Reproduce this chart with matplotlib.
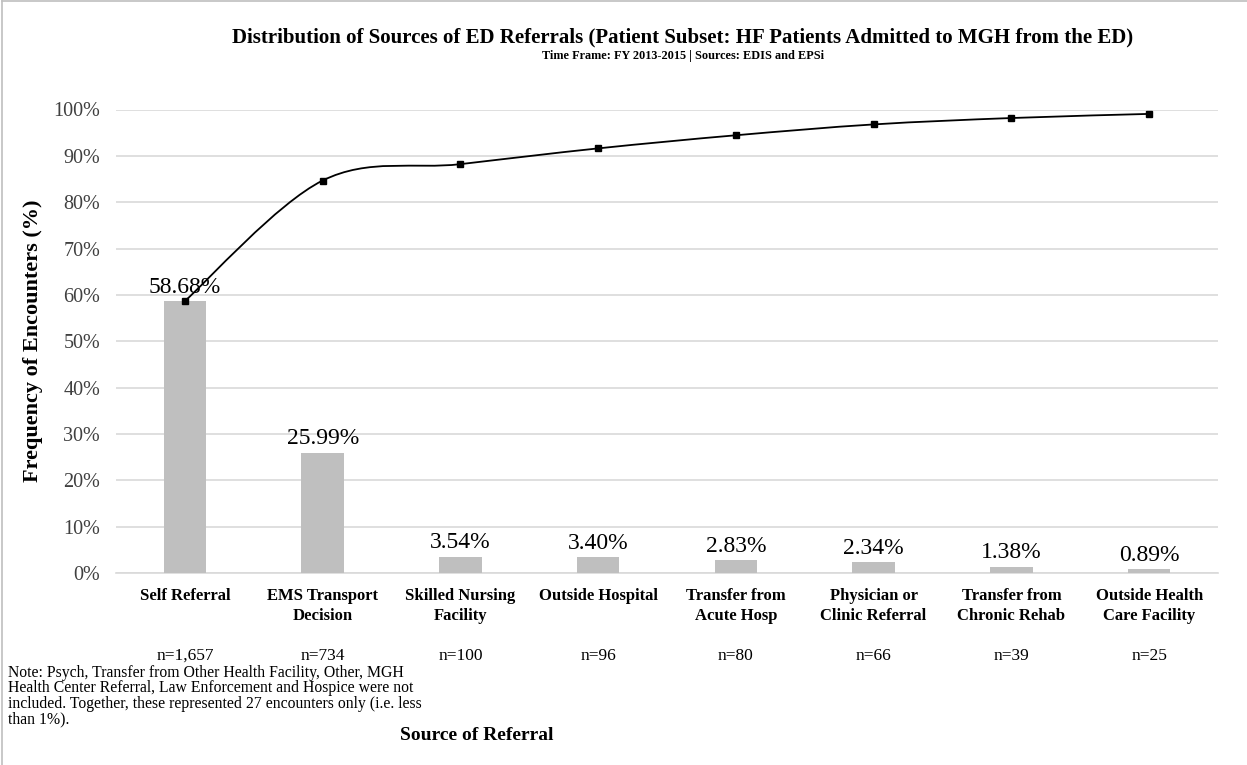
import matplotlib
matplotlib.use("Agg")
import matplotlib.pyplot as plt
import numpy as np
from matplotlib.path import Path
from matplotlib.patches import PathPatch

plt.rcParams['font.family'] = ['Liberation Serif', 'DejaVu Serif']

# referral sources, share of encounters and counts
sources = ['Self Referral', 'EMS Transport\nDecision', 'Skilled Nursing\nFacility',
           'Outside Hospital', 'Transfer from\nAcute Hosp', 'Physician or\nClinic Referral',
           'Transfer from\nChronic Rehab', 'Outside Health\nCare Facility']
share = [58.68, 25.99, 3.54, 3.40, 2.83, 2.34, 1.38, 0.89]
counts = ['n=1,657', 'n=734', 'n=100', 'n=96', 'n=80', 'n=66', 'n=39', 'n=25']
yticks = [0, 10, 20, 30, 40, 50, 60, 70, 80, 90, 100]

W, H = 1247, 765
fig = plt.figure(figsize=(W / 100, H / 100), dpi=100)
ax = fig.add_axes([116 / W, 1 - 573 / H, (1218 - 116) / W, (573 - 109.5) / H])

x = np.arange(len(sources))
frac = np.array(share) / 100
ax.bar(x, frac, width=0.31, color='#BFBFBF', zorder=2)

for xi, v in zip(x, share):
    ax.annotate('%.2f%%' % v, (xi, v / 100), xytext=(0, 6), textcoords='offset points',
                ha='center', va='baseline', fontsize=17, color='black', zorder=4)

# cumulative share, drawn as a smoothed curve (Catmull-Rom through the points)
cum = np.cumsum(frac)
pts = np.column_stack([x, cum])
ext = np.vstack([pts[0], pts, pts[-1]])
verts = [tuple(pts[0])]
codes = [Path.MOVETO]
for i in range(len(pts) - 1):
    p0, p1, p2, p3 = ext[i], ext[i + 1], ext[i + 2], ext[i + 3]
    c1 = p1 + (p2 - p0) / 6
    c2 = p2 - (p3 - p1) / 6
    verts += [tuple(c1), tuple(c2), tuple(p2)]
    codes += [Path.CURVE4] * 3
ax.add_patch(PathPatch(Path(verts, codes), fill=False, edgecolor='black', lw=1.3, zorder=3))
ax.plot(x, cum, ls='none', marker='s', ms=4, color='black', zorder=4)

ax.set_xlim(-0.5, len(sources) - 0.5)
ax.set_ylim(0, 1.0)
ax.set_yticks([t / 100 for t in yticks])
ax.set_yticklabels(['%d%%' % t for t in yticks], fontsize=14.5, color='#404040')
ax.yaxis.grid(True, color='#D9D9D9', lw=1.2, zorder=0)
ax.set_axisbelow(True)
ax.set_xticks(x)
ax.set_xticklabels(sources, fontsize=12, fontweight='bold', linespacing=1.35)
ax.tick_params(axis='x', length=0, pad=11)
ax.tick_params(axis='y', length=0, pad=11.5)
for s in ['top', 'right', 'left']:
    ax.spines[s].set_visible(False)
ax.spines['bottom'].set_color('#D9D9D9')
ax.spines['bottom'].set_linewidth(1.2)
ax.spines['bottom'].set_zorder(1)

tr = ax.get_xaxis_transform()
for xi, n in zip(x, counts):
    ax.text(xi, -0.178, n, transform=tr, ha='center', va='center', fontsize=12.5)

ax.set_ylabel('Frequency of Encounters (%)', fontsize=16, fontweight='bold')
ax.yaxis.set_label_coords(-0.066, 0.5)

fig.text(683 / W, 1 - 37 / H,
         'Distribution of Sources of ED Referrals (Patient Subset: HF Patients Admitted to MGH from the ED)',
         ha='center', va='center', fontsize=15, fontweight='bold')
fig.text(683 / W, 1 - 56 / H, 'Time Frame: FY 2013-2015 | Sources: EDIS and EPSi',
         ha='center', va='center', fontsize=8.8, fontweight='bold')
fig.text(477 / W, 1 - 736 / H, 'Source of Referral', ha='center', va='center',
         fontsize=14, fontweight='bold')
fig.text(8 / W, 1 - 665 / H,
         'Note: Psych, Transfer from Other Health Facility, Other, MGH\n'
         'Health Center Referral, Law Enforcement and Hospice were not\n'
         'included. Together, these represented 27 encounters only (i.e. less\n'
         'than 1%).', ha='left', va='top', fontsize=11.3, linespacing=0.95)

# thin frame lines along the top and left edges
fig.add_artist(plt.Line2D([0.0015, 1], [0.9985, 0.9985], transform=fig.transFigure,
                          color='#BFBFBF', lw=1.2))
fig.add_artist(plt.Line2D([0.0015, 0.0015], [0, 0.9985], transform=fig.transFigure,
                          color='#BFBFBF', lw=1.2))

fig.savefig('out.png', dpi=100)
